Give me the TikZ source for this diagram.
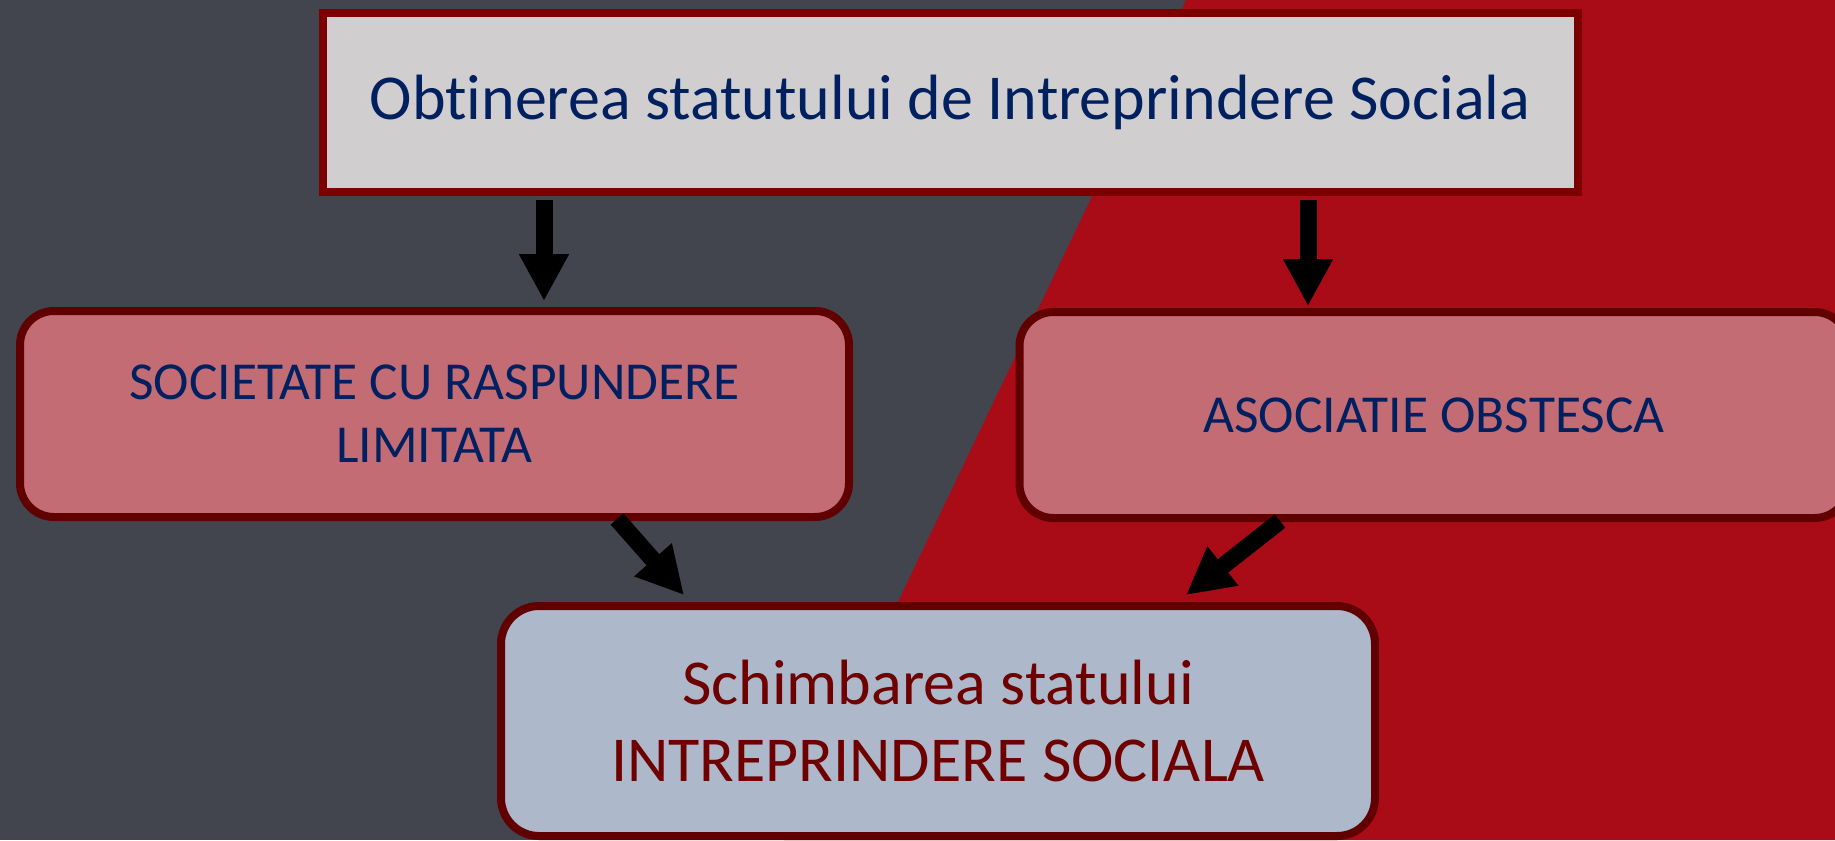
\documentclass[tikz,border=0pt]{standalone}
\usepackage{fontspec}
\setmainfont{Carlito}[Ligatures={NoCommon}]
\usetikzlibrary{arrows.meta}
\definecolor{bggray}{HTML}{42454E}
\definecolor{bgred}{HTML}{A90C16}
\definecolor{topfill}{HTML}{D0CECF}
\definecolor{topborder}{HTML}{7D0000}
\definecolor{midfill}{HTML}{C36C74}
\definecolor{darkborder}{HTML}{600000}
\definecolor{botfill}{HTML}{ADB8CA}
\definecolor{navytext}{HTML}{002060}
\definecolor{redtext}{HTML}{6E0000}
\begin{document}
\begin{tikzpicture}[x=0.5pt,y=-0.5pt,
  topbox/.style={draw=topborder,fill=topfill,line width=4pt,minimum width=627.5pt,minimum height=89.5pt,inner sep=0pt,text=navytext,font=\fontsize{32}{40}\selectfont},
  midbox/.style={draw=darkborder,fill=midfill,line width=4pt,rounded corners=17pt,minimum width=414.5pt,minimum height=103pt,inner sep=0pt,align=center,text=navytext,font=\fontsize{26.7}{31.5}\selectfont},
  botbox/.style={draw=darkborder,fill=botfill,line width=4pt,rounded corners=19pt,minimum width=437pt,minimum height=115pt,inner sep=0pt,align=center,text=redtext,font=\fontsize{32}{38.5}\selectfont},
  arr/.style={line width=8.5pt,draw=black,-{Triangle[width=23.5pt,length=23.5pt]}}]
\useasboundingbox (0,0) rectangle (1835,840);
\clip (0,0) rectangle (1835,840);
\fill[bggray] (0,0) rectangle (1835,840);
\fill[bgred] (1186,0) -- (1835,0) -- (1835,840) -- (784,840) -- cycle;
\node[topbox] (top) at (950,102.5) {Obtinerea statutului de Intreprindere Sociala};
\node[midbox] (srl) at (434.5,414) {SOCIETATE CU RASPUNDERE\\LIMITATA};
\node[midbox] (ao) at (1434,415) {ASOCIATIE OBSTESCA};
\node[botbox] (bot) at (938,721) {Schimbarea statului\\INTREPRINDERE SOCIALA};
\draw[arr] ([xshift=-203pt,yshift=-2pt]top.south) -- ([xshift=54.75pt,yshift=3pt]srl.north);
\draw[arr] ([xshift=179pt,yshift=-2pt]top.south) -- ([xshift=-63pt,yshift=1pt]ao.north);
\draw[arr] ([xshift=91.25pt,yshift=1pt]srl.south) -- ([xshift=-127pt,yshift=3.5pt]bot.north);
\draw[arr] ([xshift=-77pt,yshift=0.5pt]ao.south) -- ([xshift=124pt,yshift=3.5pt]bot.north);
\end{tikzpicture}
\end{document}
